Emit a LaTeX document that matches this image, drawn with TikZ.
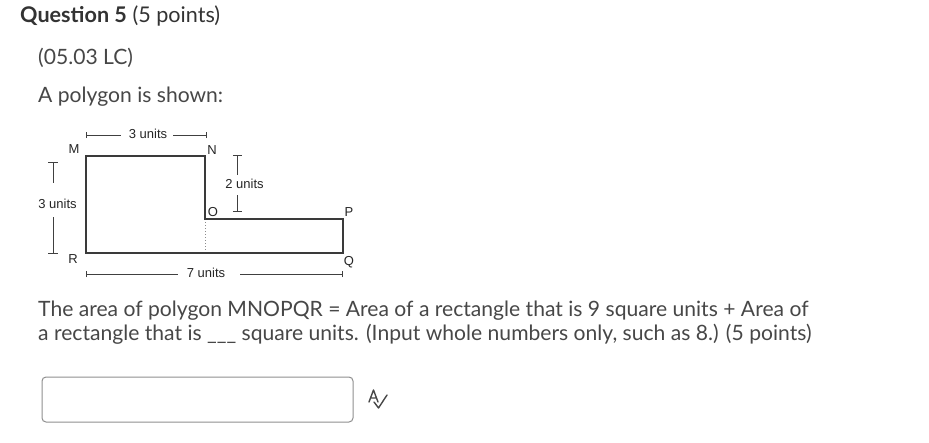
\documentclass[tikz,border=0pt]{standalone}
\usepackage{fontspec}
\usepackage{xcolor}
\usepackage{tikz}
\setmainfont{Lato}
\newfontfamily\figfont{Liberation Sans}
\definecolor{headgray}{HTML}{333333}
\definecolor{txtgray}{HTML}{474747}
\definecolor{linegray}{HTML}{3a3a3a}
\definecolor{boxgray}{HTML}{8f8f8f}

\begin{document}
\begin{tikzpicture}[x=1pt,y=-1pt,
            txt/.style = {anchor=base west, inner sep=0pt, text=txtgray,
                        font=\fontsize{21.1}{25}\selectfont},
            lbl/.style = {inner sep=0pt, text=black!85,
                        font=\figfont\fontsize{13}{15}\selectfont},
            dimline/.style = {line width=0.9pt, black!75},
            edge/.style = {line width=1.4pt, linegray}]
            \useasboundingbox[fill=white] (0,0) rectangle (929,442);
            % Heading lines
            \node[txt,text=headgray,font=\fontsize{21.6}{25}\selectfont] (head) at (20,22) {\textbf{Question 5} (5 points)};
            \node[txt] (code) at (38,64) {(05.03 LC)};
            \node[txt] (intro) at (38,102) {A polygon is shown:};
            % Polygon corners
            \coordinate (M) at (86,156);
            \coordinate (N) at (205,156);
            \coordinate (O) at (205,219);
            \coordinate (P) at (343,219);
            \coordinate (Q) at (343,253);
            \coordinate (R) at (86,253);
            \coordinate (Ob) at (205,253);
            % Polygon outline
            \draw[black!45, line width=1pt, dotted] (O) -- (Ob);
            \draw[edge, line join=miter] (M) -- (N) -- (O) -- (P) -- (Q) -- (R) -- cycle;
            % Corner labels
            \node[lbl] (labM) at (74,149) {M};
            \node[lbl] (labN) at (212,150) {N};
            \node[lbl] (labO) at (213,212) {O};
            \node[lbl] (labP) at (349,212) {P};
            \node[lbl] (labQ) at (349,262) {Q};
            \node[lbl] (labR) at (73,259) {R};
            % Top measure
            \node[lbl] (dimtop) at (148,134) {3 units};
            \coordinate (tA) at (86,135);
            \coordinate (tB) at (121,135);
            \coordinate (tC) at (173,135);
            \coordinate (tD) at (206,135);
            \draw[dimline] (tA) -- (tB) (tC) -- (tD);
            \draw[dimline] ([yshift=-3]tA) -- ([yshift=3]tA) ([yshift=-3]tD) -- ([yshift=3]tD);
            % Left measure
            \node[lbl] (dimleft) at (57.5,204) {3 units};
            \coordinate (lA) at (53.3,162);
            \coordinate (lB) at (53.3,183);
            \coordinate (lC) at (53.3,217);
            \coordinate (lD) at (53.3,253);
            \draw[dimline] (lA) -- (lB) (lC) -- (lD);
            \draw[dimline] ([xshift=-5]lA) -- ([xshift=5]lA) ([xshift=-5]lD) -- ([xshift=5]lD);
            % Right measure
            \node[lbl] (dimright) at (244.5,184) {2 units};
            \coordinate (rA) at (237.3,155);
            \coordinate (rB) at (237.3,175);
            \coordinate (rC) at (237.3,195);
            \coordinate (rD) at (237.3,211);
            \draw[dimline] (rA) -- (rB) (rC) -- (rD);
            \draw[dimline] ([xshift=-4.5]rA) -- ([xshift=4.5]rA) ([xshift=-4.5]rD) -- ([xshift=4.5]rD);
            % Bottom measure
            \node[lbl] (dimbot) at (206,273) {7 units};
            \coordinate (bA) at (86,274);
            \coordinate (bB) at (178,274);
            \coordinate (bC) at (240,274);
            \coordinate (bD) at (342,274);
            \draw[dimline] (bA) -- (bB) (bC) -- (bD);
            \draw[dimline] ([yshift=-3]bA) -- ([yshift=3]bA) ([yshift=-3]bD) -- ([yshift=3]bD);
            % Question text
            \node[txt] (lineone) at (38,316) {The area of polygon MNOPQR = Area of a rectangle that is 9 square units + Area of};
            \node[txt] (linetwo) at (38,340) {a rectangle that is \_\_\_ square units. (Input whole numbers only, such as 8.) (5 points)};
            % Answer box
            \draw[boxgray, line width=1pt, rounded corners=4pt] (42,377) rectangle (353,422);
            % Spell check icon
            \draw[txtgray, line width=1.4pt, line join=round, line cap=round]
                (369,402) -- (373.5,390) -- (378,402) (370.8,398) -- (376.2,398);
            \draw[txtgray, line width=1.4pt, line join=round, line cap=round]
                (374,402) -- (378.5,408) -- (387,395);
        \end{tikzpicture}
\end{document}
